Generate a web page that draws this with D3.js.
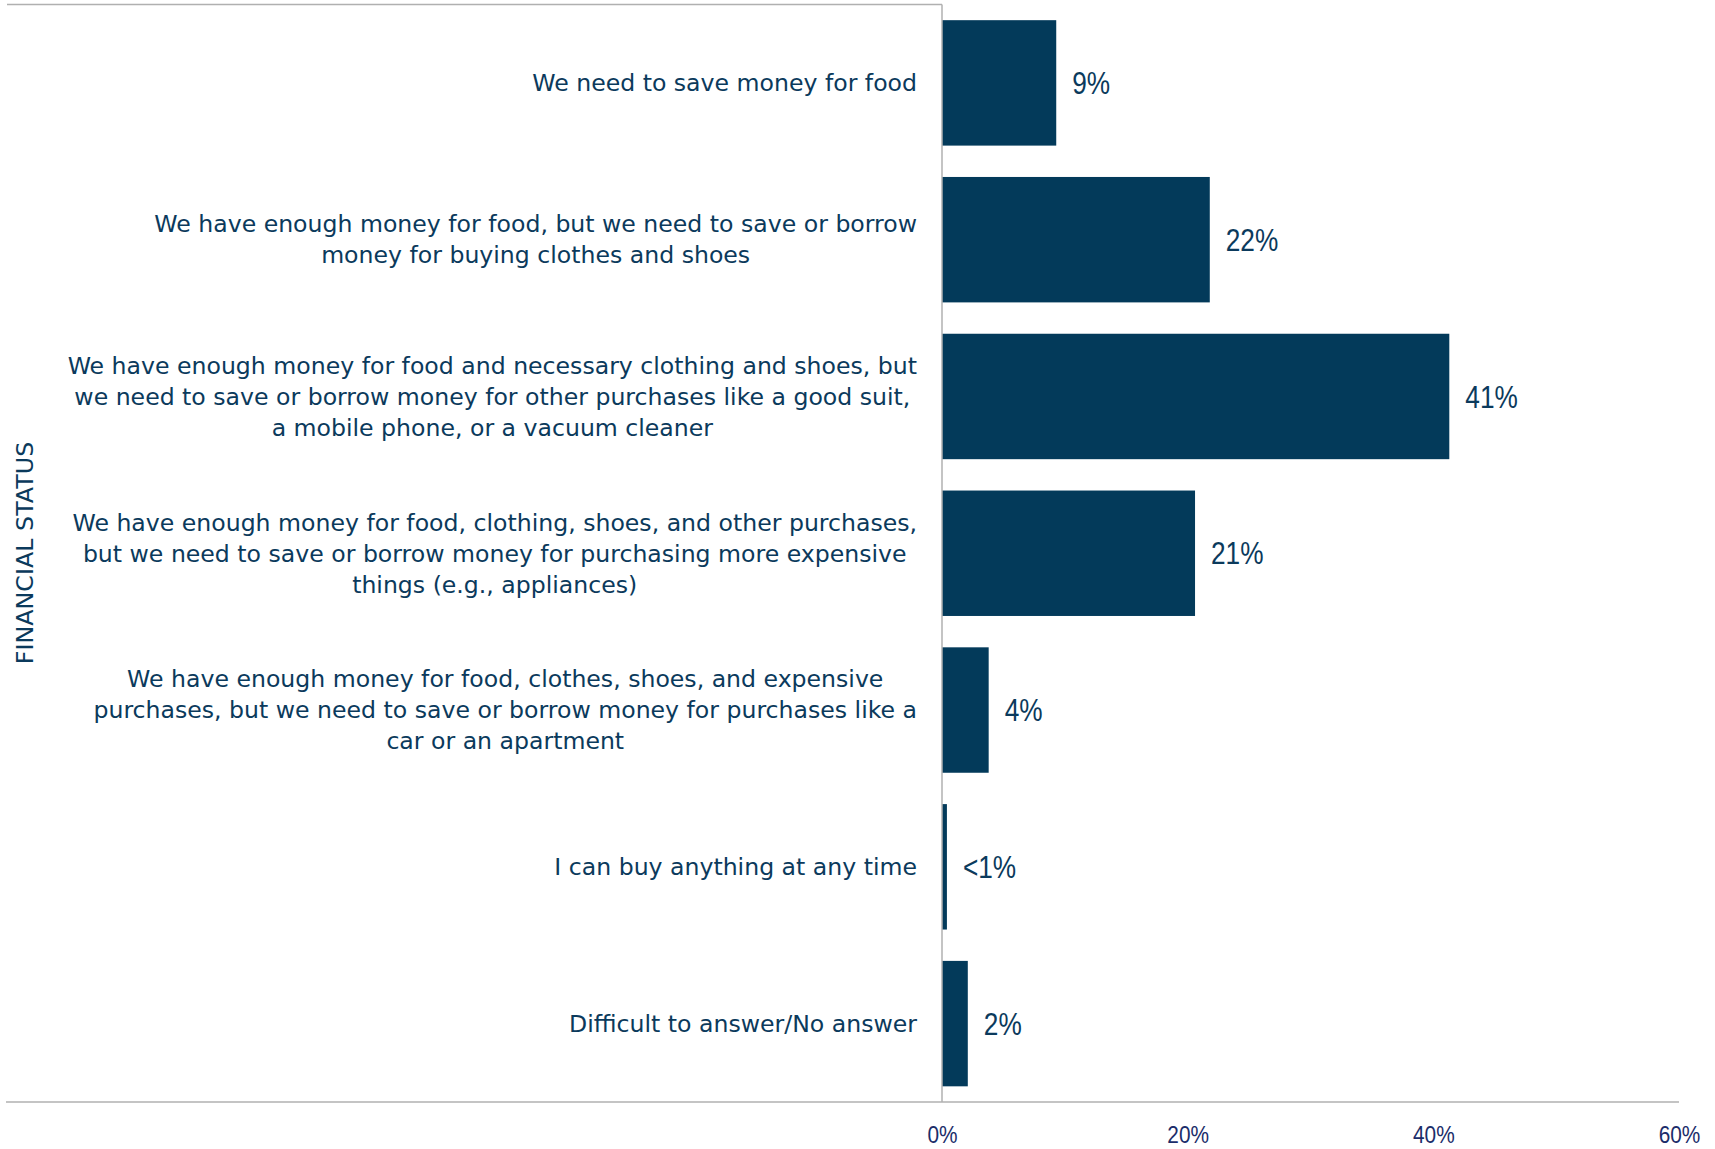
<!DOCTYPE html>
<html>
<head>
<meta charset="utf-8">
<script src="https://cdn.jsdelivr.net/npm/d3@7"></script>
<style>
  html, body { margin: 0; padding: 0; background: #fff; }
  svg { display: block; }
</style>
</head>
<body>
<svg id="chart" width="1715" height="1149"></svg>
<script>
const categories = [
  ["We need to save money for food"],
  ["We have enough money for food, but we need to save or borrow", "money for buying clothes and shoes"],
  ["We have enough money for food and necessary clothing and shoes, but", "we need to save or borrow money for other purchases like a good suit,", "a mobile phone, or a vacuum cleaner"],
  ["We have enough money for food, clothing, shoes, and other purchases,", "but we need to save or borrow money for purchasing more expensive", "things (e.g., appliances)"],
  ["We have enough money for food, clothes, shoes, and expensive", "purchases, but we need to save or borrow money for purchases like a", "car or an apartment"],
  ["I can buy anything at any time"],
  ["Difficult to answer/No answer"]
];
const values = [9.3, 21.8, 41.3, 20.6, 3.8, 0.4, 2.1];
const valueLabels = ["9%", "22%", "41%", "21%", "4%", "<1%", "2%"];
const tickValues = [0, 20, 40, 60];
const tickLabels = ["0%", "20%", "40%", "60%"];
const axisTitle = "FINANCIAL STATUS";

const svg = d3.select("#chart");
const barColor = "#033a5a";
const textColor = "#0b3a5c";
const tickColor = "#1b2d6a";
const lineColor = "#b0b0b0";
const numFont = "'Liberation Sans', Arial, sans-serif";
const labelFont = "'DejaVu Sans', Verdana, sans-serif";

const x = d3.scaleLinear().domain([0, 60]).range([942, 1679]);
const idx = d3.range(categories.length);
const y = d3.scaleBand().domain(idx).range([4.5, 1102]).paddingInner(0.2).paddingOuter(0.1);

// frame lines
svg.append("line").attr("x1", 7).attr("x2", x(0)).attr("y1", 4.5).attr("y2", 4.5)
  .attr("stroke", lineColor).attr("stroke-width", 1.5);
svg.append("line").attr("x1", 6).attr("x2", x(60)).attr("y1", 1102).attr("y2", 1102)
  .attr("stroke", lineColor).attr("stroke-width", 1.5);

// bars
svg.append("g").selectAll("rect").data(idx).join("rect")
  .attr("x", x(0))
  .attr("y", i => y(i))
  .attr("width", i => x(values[i]) - x(0))
  .attr("height", y.bandwidth())
  .attr("fill", barColor);

svg.append("line").attr("x1", x(0)).attr("x2", x(0)).attr("y1", 4.5).attr("y2", 1102)
  .attr("stroke", lineColor).attr("stroke-width", 1.5);

// value labels (narrowed horizontally)
svg.append("g").selectAll("text").data(idx).join("text")
  .attr("transform", i => `translate(${x(values[i]) + 16},${y(i) + y.bandwidth() / 2}) scale(0.82,1)`)
  .attr("dy", "0.35em")
  .attr("font-family", numFont)
  .attr("font-size", 32)
  .attr("fill", textColor)
  .text(i => valueLabels[i]);

// x axis tick labels
const xAxis = d3.axisBottom(x).tickValues(tickValues).tickSize(0).tickPadding(0)
  .tickFormat((d, i) => tickLabels[i]);
const gx = svg.append("g").attr("transform", "translate(0,1126)").call(xAxis);
gx.select(".domain").remove();
gx.selectAll("text")
  .attr("font-family", numFont)
  .attr("font-size", 24.5)
  .attr("transform", "scale(0.85,1)")
  .attr("fill", tickColor);

// category labels: block right-aligned at 917, lines centered within block
const lineH = 31;
const gl = svg.append("g");
idx.forEach(i => {
  const lines = categories[i];
  const t = gl.append("text")
    .attr("font-family", labelFont)
    .attr("font-size", 23.6)
    .attr("fill", textColor)
    .attr("text-anchor", "middle");
  const cy = y(i) + y.bandwidth() / 2;
  lines.forEach((ln, k) => {
    t.append("tspan")
      .attr("y", cy + (k - (lines.length - 1) / 2) * lineH)
      .attr("dy", "0.35em")
      .text(ln);
  });
  let maxW = 0;
  t.selectAll("tspan").each(function() { maxW = Math.max(maxW, this.getComputedTextLength()); });
  t.selectAll("tspan").attr("x", 917 - maxW / 2);
});

// axis title
svg.append("text")
  .attr("transform", "translate(25,553) rotate(-90)")
  .attr("text-anchor", "middle")
  .attr("dy", "0.35em")
  .attr("font-family", labelFont)
  .attr("font-size", 23.8)
  .attr("fill", textColor)
  .text(axisTitle);
</script>
</body>
</html>
